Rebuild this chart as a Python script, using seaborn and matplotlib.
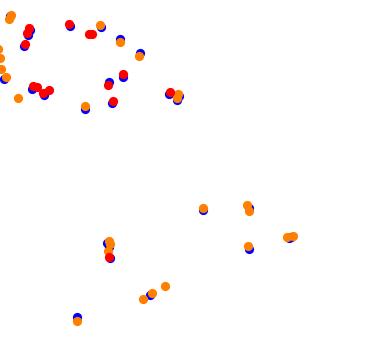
import matplotlib
matplotlib.use("Agg")
import matplotlib.pyplot as plt
import seaborn as sns
import pandas as pd

blue_x = [10, 30, 28, 24, 4, 32, 44, 70, 101, 120, 140, 123, 109, 112, 85, 169, 177, 179, 249, 289, 291, 249, 203, 107, 109, 110, 77, 150]
blue_y = [16, 30, 35, 46, 79, 89, 95, 26, 27, 39, 53, 77, 82, 103, 109, 94, 100, 96, 208, 238, 237, 249, 210, 243, 247, 258, 317, 295]

red_x = [29, 27, 25, 33, 37, 43, 49, 69, 89, 92, 123, 108, 113, 170, 109]
red_y = [28, 33, 44, 86, 87, 93, 90, 24, 34, 34, 74, 85, 101, 92, 257]

orange_x = [9, 11, -2, 0, 1, 6, 18, 100, 120, 139, 85, 178, 177, 247, 249, 287, 293, 248, 203, 109, 110, 108, 77, 143, 152, 165]
orange_y = [19, 15, 49, 58, 69, 77, 98, 25, 42, 56, 106, 94, 98, 205, 211, 237, 236, 246, 208, 241, 244, 251, 321, 299, 293, 286]

sns.set_style("white")
fig = plt.figure(figsize=(3.65, 3.5), dpi=100)
ax = fig.add_axes([0, 0, 1, 1])

s = 44
sns.scatterplot(x=blue_x, y=blue_y, color="#0000ff", s=s, linewidth=0, ax=ax, zorder=1)
sns.scatterplot(x=orange_x, y=orange_y, color="#ff8000", s=s, linewidth=0, ax=ax, zorder=2)
sns.scatterplot(x=red_x, y=red_y, color="#ff0000", s=s, linewidth=0, ax=ax, zorder=3)

ax.set_xlim(0, 365)
ax.set_ylim(350, 0)
ax.axis("off")
fig.savefig("out.png", dpi=100, facecolor="white")
